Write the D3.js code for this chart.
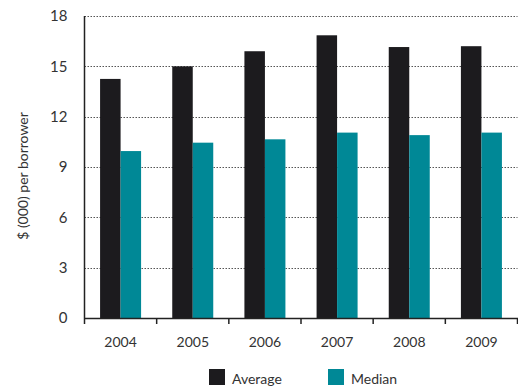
<!DOCTYPE html>
<html lang="en">
<head>
<meta charset="UTF-8">
<title>Loan per borrower</title>
<script src="https://cdn.jsdelivr.net/npm/d3@7"></script>
<style>
    body { margin: 0; background: #fff; }
    text { font-family: Lato, "Open Sans", sans-serif; fill: #333; }
</style>
</head>
<body>
<script>
'use strict';

var years = ['2004', '2005', '2006', '2007', '2008', '2009'];
var average = [14.25, 15.0, 15.9, 16.85, 16.15, 16.2];
var median = [9.95, 10.45, 10.65, 11.05, 10.9, 11.05];
var yTicks = [0, 3, 6, 9, 12, 15, 18];
var seriesNames = ['Average', 'Median'];
var colors = ['#1c1b1e', '#008896'];

var w = 518, h = 389;
var padL = 84.5, padR = 517.5, padT = 16, padB = 318;

var svg = d3.select('body').append('svg')
    .attr('width', w)
    .attr('height', h);

var x = d3.scaleBand()
    .domain(years)
    .range([padL, padR]);

var inner = d3.scaleBand()
    .domain(seriesNames)
    .range([0, x.bandwidth()])
    .paddingOuter(0.76)
    .paddingInner(0);

var y = d3.scaleLinear()
    .domain([0, 18])
    .range([padB, padT]);

// dotted gridlines
svg.append('g')
    .selectAll('line')
    .data(yTicks.filter(function (t) { return t > 0; }))
    .enter()
    .append('line')
    .attr('x1', padL)
    .attr('x2', padR)
    .attr('y1', function (t) { return Math.round(y(t)) + 0.5; })
    .attr('y2', function (t) { return Math.round(y(t)) + 0.5; })
    .attr('stroke', '#555')
    .attr('stroke-width', 1)
    .attr('stroke-dasharray', '1.5,1.5');

var table = years.map(function (yr, i) {
    return { year: yr, values: [average[i], median[i]] };
});

var groups = svg.append('g')
    .selectAll('g')
    .data(table)
    .enter()
    .append('g')
    .attr('transform', function (d) { return 'translate(' + x(d.year) + ',0)'; });

groups.selectAll('rect')
    .data(function (d) {
        return d.values.map(function (v, j) { return { name: seriesNames[j], value: v, c: colors[j] }; });
    })
    .enter()
    .append('rect')
    .attr('x', function (d) { return inner(d.name); })
    .attr('width', inner.bandwidth())
    .attr('y', function (d) { return y(d.value); })
    .attr('height', function (d) { return padB - y(d.value); })
    .attr('fill', function (d) { return d.c; });

// y axis: labels only plus a plain line
var yAxis = svg.append('g')
    .attr('transform', 'translate(' + padL + ',0)')
    .call(d3.axisLeft(y).tickValues(yTicks).tickSize(0).tickPadding(17));
yAxis.select('.domain').attr('stroke', '#222').attr('stroke-width', 1.5)
    .attr('d', 'M0,' + padT + 'V' + padB);
yAxis.selectAll('text').attr('font-size', 15).attr('font-family', null).attr('fill', '#333');

// x axis with ticks on band boundaries
var xAxis = svg.append('g')
    .attr('transform', 'translate(0,' + padB + ')')
    .call(d3.axisBottom(x).tickSize(0).tickPadding(19));
xAxis.select('.domain').attr('stroke', '#222').attr('stroke-width', 1.5);
xAxis.selectAll('text').attr('font-size', 14).attr('font-family', null).attr('fill', '#333');

xAxis.selectAll('line.sep')
    .data(years.map(function (yr) { return x(yr); }).concat([padR]))
    .enter()
    .append('line')
    .attr('class', 'sep')
    .attr('x1', function (d) { return d; })
    .attr('x2', function (d) { return d; })
    .attr('y1', 0)
    .attr('y2', 6)
    .attr('stroke', '#222')
    .attr('stroke-width', 1.5);

// y label
svg.append('text')
    .attr('transform', 'translate(28,176) rotate(-90)')
    .attr('text-anchor', 'middle')
    .attr('font-size', 14)
    .text('$ (000) per borrower');

// legend
var legend = svg.append('g')
    .selectAll('g')
    .data(seriesNames)
    .enter()
    .append('g')
    .attr('transform', function (d, i) { return 'translate(' + (209 + i * 119) + ',369)'; });

legend.append('rect')
    .attr('width', 16)
    .attr('height', 16)
    .attr('fill', function (d, i) { return colors[i]; });

legend.append('text')
    .attr('x', 23)
    .attr('y', 15)
    .attr('font-size', 14)
    .text(function (d) { return d; });
</script>
</body>
</html>
